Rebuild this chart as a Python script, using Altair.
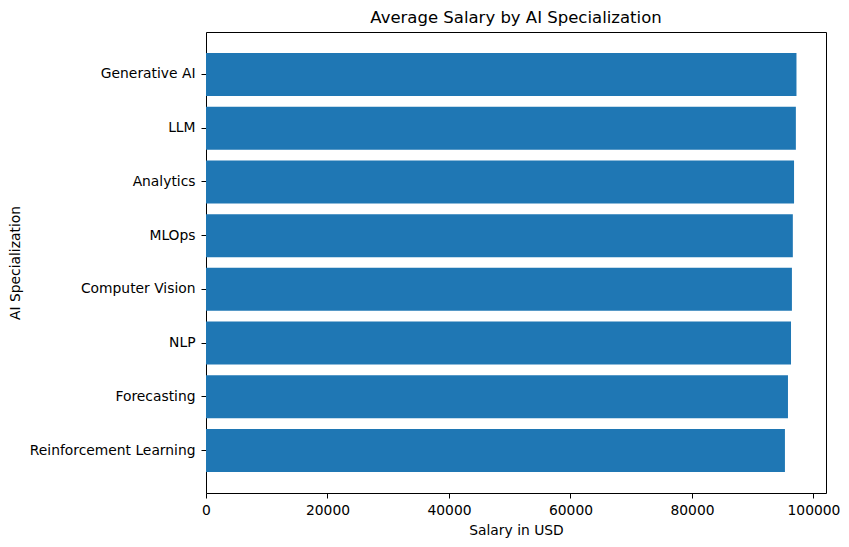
import altair as alt
import pandas as pd

categories = ["Generative AI", "LLM", "Analytics", "MLOps", "Computer Vision",
              "NLP", "Forecasting", "Reinforcement Learning"]
salaries = [97200, 97100, 96800, 96600, 96450, 96300, 95800, 95300]
x_ticks = [0, 20000, 40000, 60000, 80000, 100000]

df = pd.DataFrame({"spec": categories, "salary": salaries})

FONT = "DejaVu Sans"
FS = 13.85

xscale = alt.Scale(domain=[0, max(salaries) * 1.05], nice=False, zero=True)
yscale = alt.Scale(paddingInner=0.2, paddingOuter=0.39)

bars = alt.Chart(df).mark_bar(color="#1f77b4").encode(
    x=alt.X("salary:Q", scale=xscale,
            axis=alt.Axis(title="Salary in USD", values=x_ticks, format="d", grid=False,
                          domainColor="black", tickColor="black", tickSize=5, tickWidth=1,
                          labelColor="black", labelFont=FONT, labelFontSize=FS,
                          labelPadding=5, titleFont=FONT, titleFontSize=FS,
                          titleFontWeight="normal", titleColor="black",
                          titleBaseline="alphabetic", titleY=41, labelFlush=False)),
    y=alt.Y("spec:N", sort=categories, scale=yscale,
            axis=alt.Axis(title="AI Specialization", grid=False,
                          domainColor="black", tickColor="black", tickSize=5, tickWidth=1,
                          labelColor="black", labelFont=FONT, labelFontSize=FS,
                          labelPadding=6, labelLimit=400, titleFont=FONT, titleFontSize=FS,
                          titleFontWeight="normal", titleColor="black",
                          titleAngle=270, titleBaseline="alphabetic",
                          titleX=-186.5, titleY=230.5)),
)

frame = alt.Chart(df).mark_bar(opacity=0).encode(
    x=alt.X("salary:Q", scale=xscale,
            axis=alt.Axis(orient="top", title=None, labels=False, ticks=False,
                          grid=False, domainColor="black")),
    y=alt.Y("spec:N", sort=categories, scale=yscale,
            axis=alt.Axis(orient="right", title=None, labels=False, ticks=False,
                          grid=False, domainColor="black")),
)

chart = alt.layer(bars, frame).resolve_axis(
    x="independent", y="independent"
).properties(
    width=620,
    height=461,
    title=alt.TitleParams("Average Salary by AI Specialization", font=FONT,
                          fontSize=16.5, fontWeight="normal", color="black",
                          baseline="alphabetic", frame="group", offset=8.5, dy=16),
    autosize=alt.AutoSizeParams(type="none"),
    padding={"left": 198, "top": 24, "right": 14, "bottom": 45},
).configure_view(
    stroke=None
).configure(background="white")

chart.save("out.html", embed_options={"renderer": "svg", "actions": False})
